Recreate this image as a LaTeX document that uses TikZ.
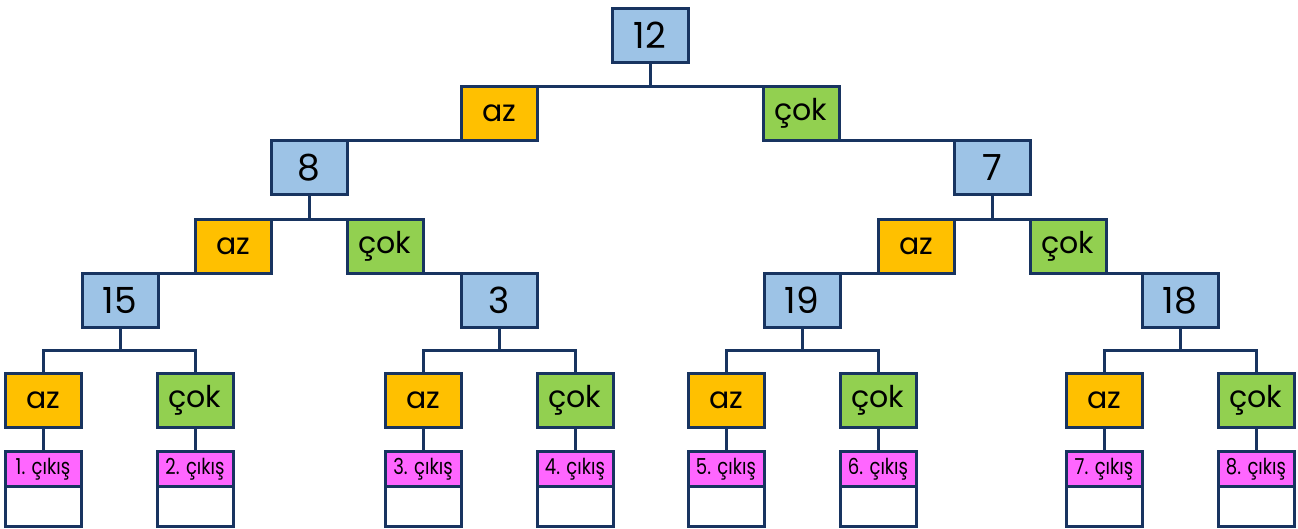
\documentclass[tikz,border=0pt]{standalone}
\usepackage{fontspec}
\setmainfont{Poppins}
\newfontfamily\outfont[FakeStretch=0.82]{Poppins}
\definecolor{linecol}{RGB}{24,52,96}
\definecolor{numfill}{RGB}{157,195,230}
\definecolor{azfill}{RGB}{255,192,0}
\definecolor{cokfill}{RGB}{146,208,80}
\definecolor{outfill}{RGB}{255,102,255}
\begin{document}
\begin{tikzpicture}[x=.5pt,y=-.5pt,
    box/.style={draw=linecol,line width=1.5pt,minimum width=38pt,
      minimum height=27pt,inner sep=0pt,outer sep=0pt},
    numbox/.style={box,fill=numfill,font=\fontsize{18}{18}\selectfont},
    azbox/.style={box,fill=azfill,font=\fontsize{15}{15}\selectfont},
    cokbox/.style={box,fill=cokfill,font=\fontsize{15}{15}\selectfont},
    outbox/.style={box,fill=outfill,minimum height=17.5pt,
      font=\outfont\fontsize{11}{11}\selectfont},
    emptybox/.style={box,fill=white,minimum height=20pt},
    link/.style={draw=linecol,line width=1.5pt}]
  \useasboundingbox (0,0) rectangle (1298,529);
  % top levels
  \node[numbox] (n12) at (650,35.5) {12};
  \node[azbox] (a1) at (499,113.5) {az};
  \node[cokbox] (c1) at (801,113.5) {çok};
  \node[numbox] (n8) at (309,167.5) {8};
  \node[numbox] (n7) at (992,167.5) {7};
  \node[azbox] (a2) at (233,246.5) {az};
  \node[cokbox] (c2) at (385,246.5) {çok};
  \node[azbox] (a3) at (916,246.5) {az};
  \node[cokbox] (c3) at (1068,246.5) {çok};
  \node[numbox] (n15) at (120,300.5) {15};
  \node[numbox] (n3) at (499,300.5) {3};
  \node[numbox] (n19) at (802,300.5) {19};
  \node[numbox] (n18) at (1180,300.5) {18};
  % leaves
  \node[azbox] (l1) at (43,400.5) {az};
  \node[cokbox] (l2) at (195,400.5) {çok};
  \node[azbox] (l3) at (423,400.5) {az};
  \node[cokbox] (l4) at (575,400.5) {çok};
  \node[azbox] (l5) at (726,400.5) {az};
  \node[cokbox] (l6) at (878,400.5) {çok};
  \node[azbox] (l7) at (1104,400.5) {az};
  \node[cokbox] (l8) at (1256,400.5) {çok};
  % exits
  \node[outbox] (o1) at (43,469.5) {1. çıkış};
  \node[outbox] (o2) at (195,469.5) {2. çıkış};
  \node[outbox] (o3) at (423,469.5) {3. çıkış};
  \node[outbox] (o4) at (575,469.5) {4. çıkış};
  \node[outbox] (o5) at (726,469.5) {5. çıkış};
  \node[outbox] (o6) at (878,469.5) {6. çıkış};
  \node[outbox] (o7) at (1104,469.5) {7. çıkış};
  \node[outbox] (o8) at (1256,469.5) {8. çıkış};
  \node[emptybox,anchor=north] (e1) at (o1.south) {};
  \node[emptybox,anchor=north] (e2) at (o2.south) {};
  \node[emptybox,anchor=north] (e3) at (o3.south) {};
  \node[emptybox,anchor=north] (e4) at (o4.south) {};
  \node[emptybox,anchor=north] (e5) at (o5.south) {};
  \node[emptybox,anchor=north] (e6) at (o6.south) {};
  \node[emptybox,anchor=north] (e7) at (o7.south) {};
  \node[emptybox,anchor=north] (e8) at (o8.south) {};
  % links
  \draw[link] (n12.south) -- (n12.south |- a1.north);
  \draw[link] (a1.north west) -- (c1.north east);
  \draw[link] (n8.north east) -- (a1.south west);
  \draw[link] (c1.south east) -- (n7.north west);
  \draw[link] (n8.south) -- (n8.south |- a2.north);
  \draw[link] (a2.north west) -- (c2.north east);
  \draw[link] (n7.south) -- (n7.south |- a3.north);
  \draw[link] (a3.north west) -- (c3.north east);
  \draw[link] (n15.north east) -- (a2.south west);
  \draw[link] (c2.south east) -- (n3.north west);
  \draw[link] (n19.north east) -- (a3.south west);
  \draw[link] (c3.south east) -- (n18.north west);
  \draw[link] (n15.south) -- ++(0,23.5) coordinate (b15);
  \draw[link] (l1.north) |- (b15) -| (l2.north);
  \draw[link] (n3.south) -- ++(0,23.5) coordinate (b3);
  \draw[link] (l3.north) |- (b3) -| (l4.north);
  \draw[link] (n19.south) -- ++(0,23.5) coordinate (b19);
  \draw[link] (l5.north) |- (b19) -| (l6.north);
  \draw[link] (n18.south) -- ++(0,23.5) coordinate (b18);
  \draw[link] (l7.north) |- (b18) -| (l8.north);
  \draw[link] (l1.south) -- (o1.north);
  \draw[link] (l2.south) -- (o2.north);
  \draw[link] (l3.south) -- (o3.north);
  \draw[link] (l4.south) -- (o4.north);
  \draw[link] (l5.south) -- (o5.north);
  \draw[link] (l6.south) -- (o6.north);
  \draw[link] (l7.south) -- (o7.north);
  \draw[link] (l8.south) -- (o8.north);
\end{tikzpicture}
\end{document}
